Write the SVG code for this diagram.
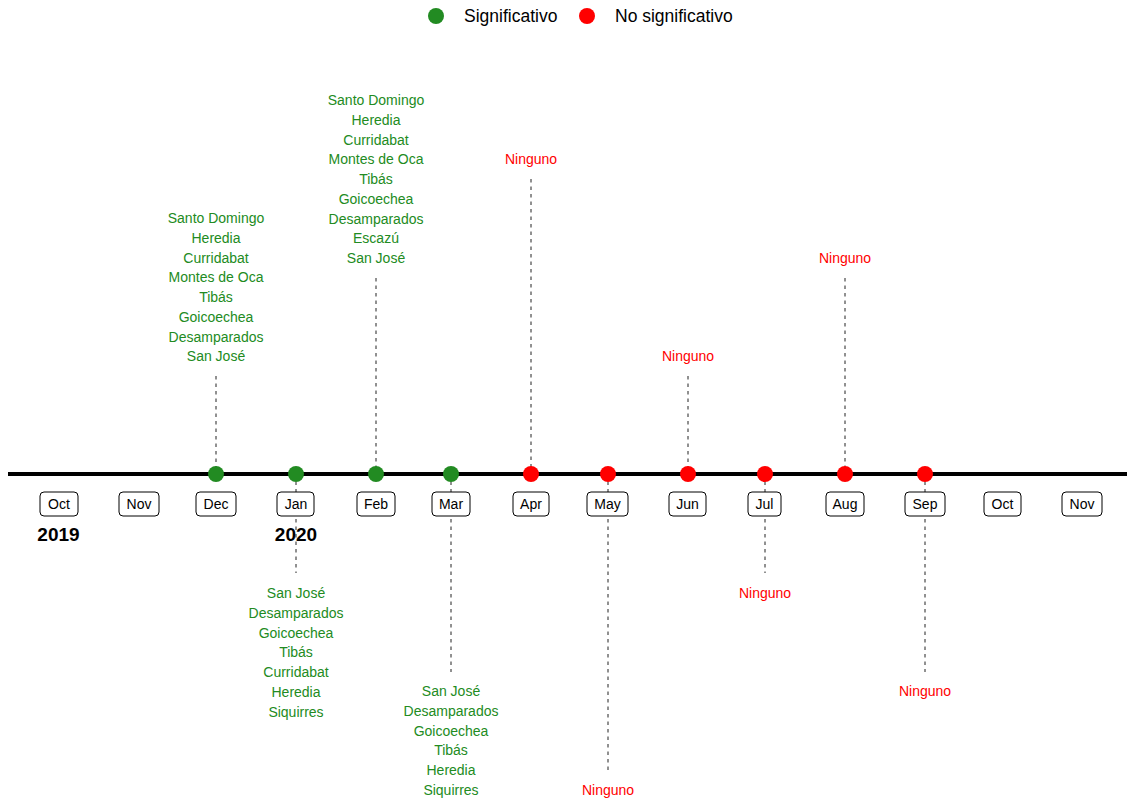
<svg xmlns="http://www.w3.org/2000/svg" width="1135" height="802" viewBox="0 0 1135 802">
<style>
text{font-family:"Liberation Sans",Arial,Helvetica,sans-serif}
.lbl{font-size:14px;text-anchor:middle}
.g{fill:#228B22}
.r{fill:#FF0000}
.mon{font-size:14px;text-anchor:middle;fill:#000}
.box{fill:#fff;stroke:#000;stroke-width:1}
.yr{font-size:19px;font-weight:bold;text-anchor:middle;fill:#000}
.con{stroke:#222;stroke-width:1;stroke-dasharray:3.5,4;fill:none}
.leg{font-size:17.5px;fill:#000}
</style>
<rect width="1135" height="802" fill="#fff"/>
<g id="legend">
<circle cx="436" cy="16" r="8" class="g"/>
<text x="464" y="22" class="leg">Significativo</text>
<circle cx="587" cy="16" r="8" class="r"/>
<text x="615" y="22" class="leg">No significativo</text>
</g>
<g id="connectors">
<line class="con" x1="216" y1="376" x2="216" y2="474"/>
<line class="con" x1="376" y1="278" x2="376" y2="474"/>
<line class="con" x1="531" y1="179" x2="531" y2="474"/>
<line class="con" x1="688" y1="376" x2="688" y2="474"/>
<line class="con" x1="845" y1="278" x2="845" y2="474"/>
<line class="con" x1="296" y1="474" x2="296" y2="573"/>
<line class="con" x1="451" y1="474" x2="451" y2="672"/>
<line class="con" x1="608" y1="474" x2="608" y2="771"/>
<line class="con" x1="765" y1="474" x2="765" y2="573"/>
<line class="con" x1="925" y1="474" x2="925" y2="672"/>
</g>
<g id="axis">
<line x1="8" y1="474" x2="1127" y2="474" stroke="#000" stroke-width="4"/>
</g>
<g id="months">
<g id="m-oct19"><rect class="box" x="40" y="492" width="38" height="24" rx="4"/><text class="mon" x="59" y="509">Oct</text></g>
<g id="m-nov19"><rect class="box" x="119" y="492" width="40" height="24" rx="4"/><text class="mon" x="139" y="509">Nov</text></g>
<g id="m-dec"><rect class="box" x="196" y="492" width="40" height="24" rx="4"/><text class="mon" x="216" y="509">Dec</text></g>
<g id="m-jan"><rect class="box" x="277" y="492" width="37" height="24" rx="4"/><text class="mon" x="296" y="509">Jan</text></g>
<g id="m-feb"><rect class="box" x="357" y="492" width="38" height="24" rx="4"/><text class="mon" x="376" y="509">Feb</text></g>
<g id="m-mar"><rect class="box" x="432" y="492" width="38" height="24" rx="4"/><text class="mon" x="451" y="509">Mar</text></g>
<g id="m-apr"><rect class="box" x="513" y="492" width="36" height="24" rx="4"/><text class="mon" x="531" y="509">Apr</text></g>
<g id="m-may"><rect class="box" x="587" y="492" width="41" height="24" rx="4"/><text class="mon" x="607.5" y="509">May</text></g>
<g id="m-jun"><rect class="box" x="669" y="492" width="37" height="24" rx="4"/><text class="mon" x="687.5" y="509">Jun</text></g>
<g id="m-jul"><rect class="box" x="748" y="492" width="33" height="24" rx="4"/><text class="mon" x="764.5" y="509">Jul</text></g>
<g id="m-aug"><rect class="box" x="826" y="492" width="38" height="24" rx="4"/><text class="mon" x="845" y="509">Aug</text></g>
<g id="m-sep"><rect class="box" x="905" y="492" width="40" height="24" rx="4"/><text class="mon" x="925" y="509">Sep</text></g>
<g id="m-oct20"><rect class="box" x="984" y="492" width="37" height="24" rx="4"/><text class="mon" x="1002.5" y="509">Oct</text></g>
<g id="m-nov20"><rect class="box" x="1062" y="492" width="40" height="24" rx="4"/><text class="mon" x="1082" y="509">Nov</text></g>
<text class="yr" x="58.5" y="541">2019</text>
<text class="yr" x="296" y="541">2020</text>
</g>
<g id="points">
<circle cx="216" cy="474" r="8" class="g"/>
<circle cx="296" cy="474" r="8" class="g"/>
<circle cx="376" cy="474" r="8" class="g"/>
<circle cx="451" cy="474" r="8" class="g"/>
<circle cx="531" cy="474" r="8" class="r"/>
<circle cx="608" cy="474" r="8" class="r"/>
<circle cx="688" cy="474" r="8" class="r"/>
<circle cx="765" cy="474" r="8" class="r"/>
<circle cx="845" cy="474" r="8" class="r"/>
<circle cx="925" cy="474" r="8" class="r"/>
</g>
<g id="label-dec">
<text class="lbl g" x="216" y="223"><tspan x="216">Santo Domingo</tspan><tspan x="216" dy="19.75">Heredia</tspan><tspan x="216" dy="19.75">Curridabat</tspan><tspan x="216" dy="19.75">Montes de Oca</tspan><tspan x="216" dy="19.75">Tibás</tspan><tspan x="216" dy="19.75">Goicoechea</tspan><tspan x="216" dy="19.75">Desamparados</tspan><tspan x="216" dy="19.75">San José</tspan></text>
</g>
<g id="label-feb">
<text class="lbl g" x="376" y="105"><tspan x="376">Santo Domingo</tspan><tspan x="376" dy="19.75">Heredia</tspan><tspan x="376" dy="19.75">Curridabat</tspan><tspan x="376" dy="19.75">Montes de Oca</tspan><tspan x="376" dy="19.75">Tibás</tspan><tspan x="376" dy="19.75">Goicoechea</tspan><tspan x="376" dy="19.75">Desamparados</tspan><tspan x="376" dy="19.75">Escazú</tspan><tspan x="376" dy="19.75">San José</tspan></text>
</g>
<g id="label-apr"><text class="lbl r" x="531" y="164">Ninguno</text></g>
<g id="label-jun"><text class="lbl r" x="688" y="361">Ninguno</text></g>
<g id="label-aug"><text class="lbl r" x="845" y="263">Ninguno</text></g>
<g id="label-jan">
<text class="lbl g" x="296" y="598"><tspan x="296">San José</tspan><tspan x="296" dy="19.75">Desamparados</tspan><tspan x="296" dy="19.75">Goicoechea</tspan><tspan x="296" dy="19.75">Tibás</tspan><tspan x="296" dy="19.75">Curridabat</tspan><tspan x="296" dy="19.75">Heredia</tspan><tspan x="296" dy="19.75">Siquirres</tspan></text>
</g>
<g id="label-mar">
<text class="lbl g" x="451" y="696"><tspan x="451">San José</tspan><tspan x="451" dy="19.75">Desamparados</tspan><tspan x="451" dy="19.75">Goicoechea</tspan><tspan x="451" dy="19.75">Tibás</tspan><tspan x="451" dy="19.75">Heredia</tspan><tspan x="451" dy="19.75">Siquirres</tspan></text>
</g>
<g id="label-may"><text class="lbl r" x="608" y="795">Ninguno</text></g>
<g id="label-jul"><text class="lbl r" x="765" y="598">Ninguno</text></g>
<g id="label-sep"><text class="lbl r" x="925" y="696">Ninguno</text></g>
</svg>
